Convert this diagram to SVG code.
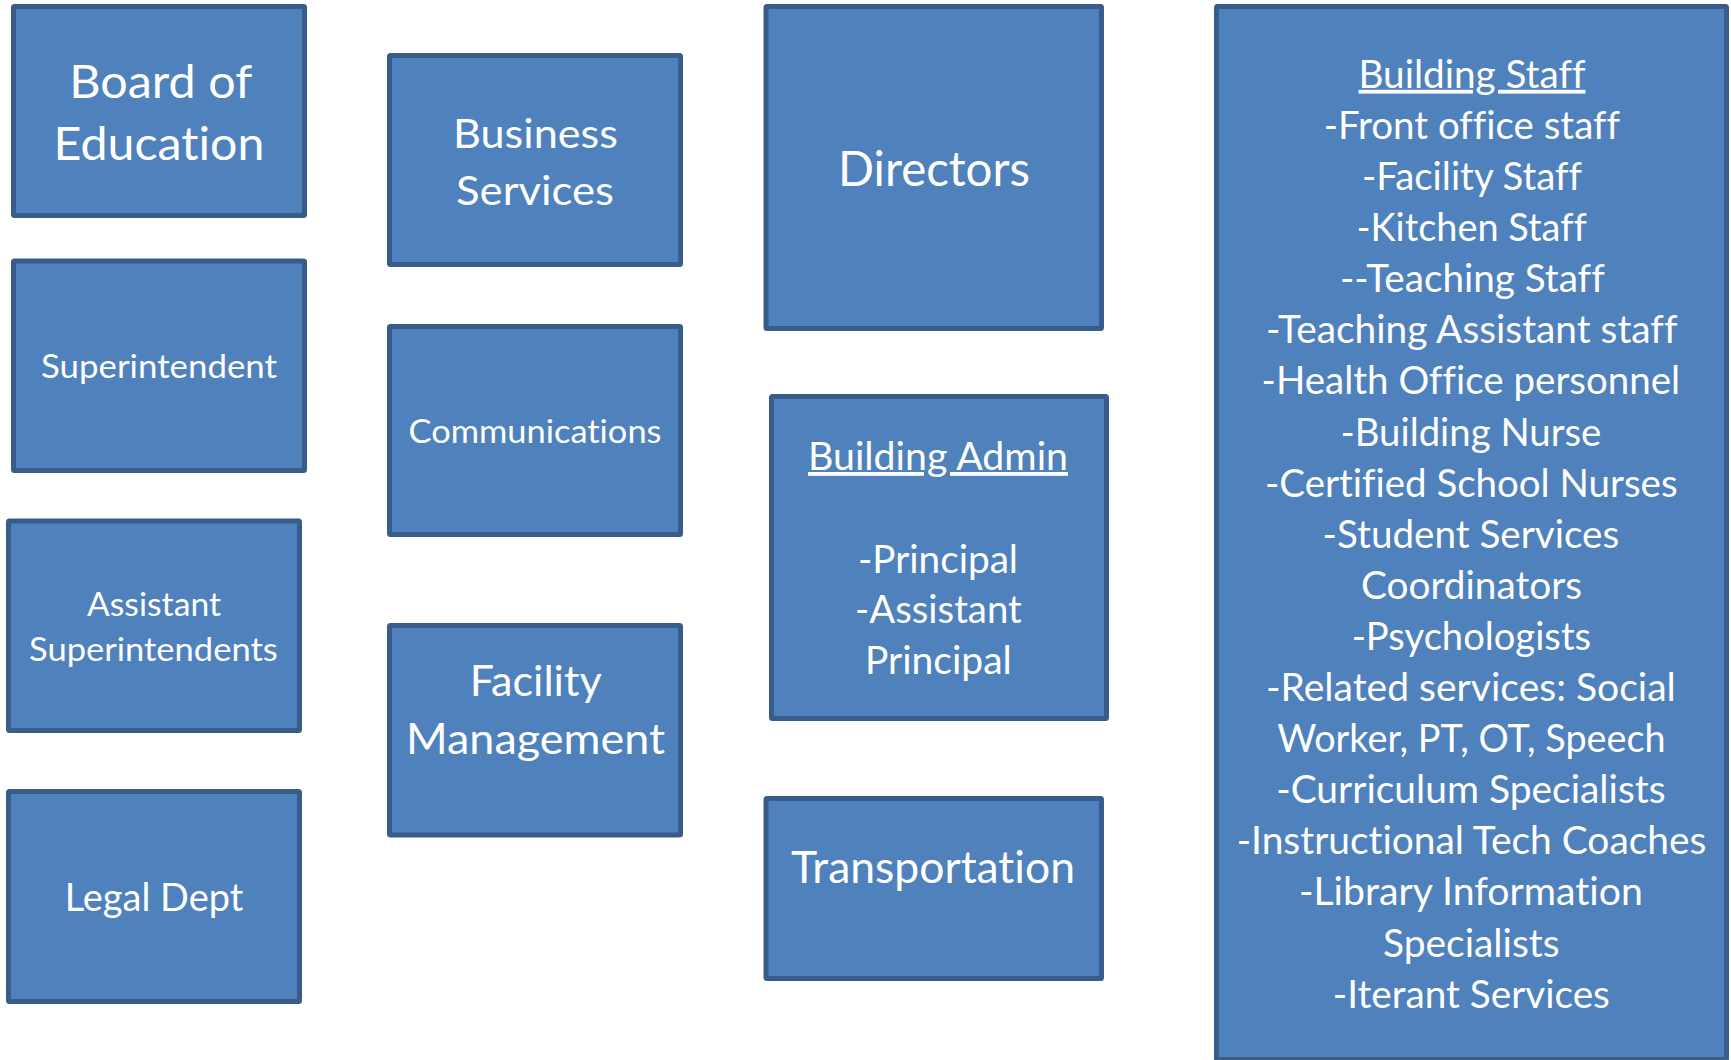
<svg xmlns="http://www.w3.org/2000/svg" width="1731" height="1060" viewBox="0 0 1731 1060">
<style>
.box{fill:#4F81BD;stroke:#385D8A;stroke-width:5}
.t{fill:#FFFFFF;font-family:Lato,"Noto Sans","DejaVu Sans",sans-serif;text-anchor:middle;font-variant-ligatures:none;font-feature-settings:"liga" 0,"clig" 0}
.u{text-decoration:underline}
</style>
<rect width="1731" height="1060" fill="#FFFFFF"/>
<g id="connectors"></g>
<g id="board">
<rect class="box" x="13.5" y="6.5" width="291" height="209" rx="1"/>
<text class="t" font-size="47" x="160.7" y="97.5" textLength="183" lengthAdjust="spacingAndGlyphs">Board of</text>
<text class="t" font-size="47" x="159" y="160" textLength="211" lengthAdjust="spacingAndGlyphs">Education</text>
</g>
<g id="superintendent">
<rect class="box" x="13.5" y="261" width="291" height="209.5" rx="1"/>
<text class="t" font-size="33" x="159" y="377.7" textLength="236" lengthAdjust="spacingAndGlyphs">Superintendent</text>
</g>
<g id="assistant-superintendents">
<rect class="box" x="8.5" y="521" width="291" height="209.5" rx="1"/>
<text class="t" font-size="33" x="154" y="616" textLength="134" lengthAdjust="spacingAndGlyphs">Assistant</text>
<text class="t" font-size="33" x="153.4" y="660.7" textLength="248.7" lengthAdjust="spacingAndGlyphs">Superintendents</text>
</g>
<g id="legal">
<rect class="box" x="8.5" y="791.5" width="291" height="210" rx="1"/>
<text class="t" font-size="38" x="154" y="910.7" textLength="178.6" lengthAdjust="spacingAndGlyphs">Legal Dept</text>
</g>
<g id="business">
<rect class="box" x="389.5" y="55.5" width="291" height="209" rx="1"/>
<text class="t" font-size="41.5" x="535.5" y="148" textLength="165" lengthAdjust="spacingAndGlyphs">Business</text>
<text class="t" font-size="41.5" x="535" y="205" textLength="158" lengthAdjust="spacingAndGlyphs">Services</text>
</g>
<g id="communications">
<rect class="box" x="389.5" y="326.5" width="291" height="208" rx="1"/>
<text class="t" font-size="33" x="535" y="443.2" textLength="253" lengthAdjust="spacingAndGlyphs">Communications</text>
</g>
<g id="facility">
<rect class="box" x="389.5" y="625.5" width="291" height="209.5" rx="1"/>
<text class="t" font-size="42" x="535.7" y="696.4" textLength="132" lengthAdjust="spacingAndGlyphs">Facility</text>
<text class="t" font-size="42" x="535.5" y="754.3" textLength="259" lengthAdjust="spacingAndGlyphs">Management</text>
</g>
<g id="directors">
<rect class="box" x="766" y="6.5" width="335.5" height="322" rx="1"/>
<text class="t" font-size="48" x="934" y="186" textLength="192" lengthAdjust="spacingAndGlyphs">Directors</text>
</g>
<g id="building-admin">
<rect class="box" x="771.5" y="396.5" width="335" height="322" rx="1"/>
<text class="t u" font-size="38" x="938" y="470" textLength="260" lengthAdjust="spacingAndGlyphs">Building Admin</text>
<text class="t" font-size="38" x="938" y="573.2" textLength="160" lengthAdjust="spacingAndGlyphs">-Principal</text>
<text class="t" font-size="38" x="938.4" y="623.2" textLength="166.7" lengthAdjust="spacingAndGlyphs">-Assistant</text>
<text class="t" font-size="38" x="938.4" y="674.3" textLength="146.7" lengthAdjust="spacingAndGlyphs">Principal</text>
</g>
<g id="transportation">
<rect class="box" x="766" y="798.5" width="335.5" height="180" rx="1"/>
<text class="t" font-size="44" x="933" y="883.2" textLength="284" lengthAdjust="spacingAndGlyphs">Transportation</text>
</g>
<g id="building-staff">
<rect class="box" x="1216.5" y="6.5" width="510" height="1053" rx="1"/>
<text class="t u" font-size="38" x="1472" y="87.8" textLength="227" lengthAdjust="spacingAndGlyphs">Building Staff</text>
<text class="t" font-size="38" x="1471.8" y="138.9" textLength="296.3" lengthAdjust="spacingAndGlyphs">-Front office staff</text>
<text class="t" font-size="38" x="1472" y="190" textLength="220.1" lengthAdjust="spacingAndGlyphs">-Facility Staff</text>
<text class="t" font-size="38" x="1471.6" y="241.1" textLength="230.3" lengthAdjust="spacingAndGlyphs">-Kitchen Staff</text>
<text class="t" font-size="38" x="1472.3" y="292.2" textLength="264.8" lengthAdjust="spacingAndGlyphs">--Teaching Staff</text>
<text class="t" font-size="38" x="1471.8" y="343.3" textLength="411.5" lengthAdjust="spacingAndGlyphs">-Teaching Assistant staff</text>
<text class="t" font-size="38" x="1470.9" y="394.4" textLength="418.6" lengthAdjust="spacingAndGlyphs">-Health Office personnel</text>
<text class="t" font-size="38" x="1470.9" y="445.5" textLength="260.8" lengthAdjust="spacingAndGlyphs">-Building Nurse</text>
<text class="t" font-size="38" x="1471.3" y="496.6" textLength="412.5" lengthAdjust="spacingAndGlyphs">-Certified School Nurses</text>
<text class="t" font-size="38" x="1470.9" y="547.7" textLength="296.6" lengthAdjust="spacingAndGlyphs">-Student Services</text>
<text class="t" font-size="38" x="1471.5" y="598.8" textLength="221.1" lengthAdjust="spacingAndGlyphs">Coordinators</text>
<text class="t" font-size="38" x="1471.4" y="649.9" textLength="239.4" lengthAdjust="spacingAndGlyphs">-Psychologists</text>
<text class="t" font-size="38" x="1470.9" y="701" textLength="409.8" lengthAdjust="spacingAndGlyphs">-Related services: Social</text>
<text class="t" font-size="38" x="1471.4" y="752.1" textLength="388.4" lengthAdjust="spacingAndGlyphs">Worker, PT, OT, Speech</text>
<text class="t" font-size="38" x="1470.9" y="803.2" textLength="389.4" lengthAdjust="spacingAndGlyphs">-Curriculum Specialists</text>
<text class="t" font-size="38" x="1471.5" y="854.3" textLength="469.7" lengthAdjust="spacingAndGlyphs">-Instructional Tech Coaches</text>
<text class="t" font-size="38" x="1470.9" y="905.4" textLength="344" lengthAdjust="spacingAndGlyphs">-Library Information</text>
<text class="t" font-size="38" x="1471.3" y="956.5" textLength="176.7" lengthAdjust="spacingAndGlyphs">Specialists</text>
<text class="t" font-size="38" x="1471.3" y="1007.6" textLength="277.1" lengthAdjust="spacingAndGlyphs">-Iterant Services</text>
</g>
</svg>
